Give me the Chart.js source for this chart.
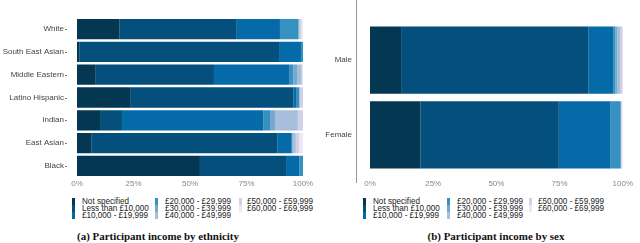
<!DOCTYPE html>
<html>
<head>
<meta charset="utf-8">
<script src="https://cdn.jsdelivr.net/npm/chart.js@4"></script>
<style>
  body { margin: 0; background: #fff; width: 640px; height: 243px; overflow: hidden; position: relative;
         font-family: "Liberation Sans", Arial, sans-serif; }
  canvas { position: absolute; top: 0; }
  #ethChart { left: 0; }
  #sexChart { left: 320px; }
  .lg { position: absolute; font-family: "Liberation Sans", Arial, sans-serif; font-size: 8px;
        line-height: 7px; color: #222; white-space: nowrap; }
  .sw { position: absolute; width: 3px; height: 7px; }
  .cap { position: absolute; top: 230px; font-family: "Liberation Serif", "Times New Roman", serif; font-weight: bold;
         font-size: 11px; line-height: 13px; transform: translateX(-50%); white-space: nowrap; color: #111; }
</style>
</head>
<body>
<canvas id="ethChart" width="320" height="195"></canvas>
<canvas id="sexChart" width="320" height="195"></canvas>
<div id="legends"></div>
<div class="cap" id="capA" style="left:158px">(a) Participant income by ethnicity</div>
<div class="cap" id="capB" style="left:496px">(b) Participant income by sex</div>
<script>
// income bands + colours (PuBu-ish, dark to light)
const incomeBands = ['Not specified', 'Less than £10,000', '£10,000 - £19,999', '£20,000 - £29,999',
                     '£30,000 - £39,999', '£40,000 - £49,999', '£50,000 - £59,999', '£60,000 - £69,999'];
const bandColors = ['#033752', '#044f7b', '#056aa8', '#3690c0', '#74a9cf', '#a6bddb', '#d0d1e6', '#ece7f2'];

const pctTicks = [0, 25, 50, 75, 100];

// (a) by ethnicity, % of participants
const ethnicities = ['White', 'South East Asian', 'Middle Eastern', 'Latino Hispanic', 'Indian', 'East Asian', 'Black'];
const ethNotSpecified = [18.7, 1.0, 8.3, 23.5, 10.2, 6.5, 54.4];
const ethUnder10k     = [52.0, 88.4, 52.3, 72.2, 9.7, 82.1, 38.1];
const eth10to19k      = [19.1, 9.7, 33.2, 1.5, 62.5, 6.4, 5.9];
const eth20to29k      = [8.1, 0.9, 1.9, 1.2, 3.0, 0.3, 1.6];
const eth30to39k      = [0.3, 0, 1.9, 0, 2.2, 0, 0];
const eth40to49k      = [0.3, 0, 1.8, 0, 10.1, 1.5, 0];
const eth50to59k      = [0.8, 0, 0.4, 1.6, 2.3, 1.5, 0];
const eth60to69k      = [0.6, 0, 0, 0, 0, 1.7, 0];

// (b) by sex
const sexes = ['Male', 'Female'];
const sexNotSpecified = [12.3, 20.0];
const sexUnder10k     = [74.2, 54.7];
const sex10to19k      = [9.7, 20.3];
const sex20to29k      = [0.9, 4.2];
const sex30to39k      = [0.8, 0];
const sex40to49k      = [1.0, 0];
const sex50to59k      = [1.1, 0.4];
const sex60to69k      = [0, 0.4];

const ethSeries = [ethNotSpecified, ethUnder10k, eth10to19k, eth20to29k, eth30to39k, eth40to49k, eth50to59k, eth60to69k];
const sexSeries = [sexNotSpecified, sexUnder10k, sex10to19k, sex20to29k, sex30to39k, sex40to49k, sex50to59k, sex60to69k];

const font8 = { family: '"Liberation Sans", Arial, sans-serif', size: 8 };

function makeDatasets(series, barPct) {
    return series.map((data, i) => ({
        label: incomeBands[i],
        data,
        backgroundColor: bandColors[i],
        borderWidth: 0,
        barPercentage: barPct,
        categoryPercentage: 1
    }));
}

function makeChart(id, labels, series, o) {
    return new Chart(document.getElementById(id), {
        type: 'bar',
        data: { labels, datasets: makeDatasets(series, o.barPct) },
        options: {
            indexAxis: 'y',
            responsive: false,
            animation: false,
            layout: { padding: { top: o.top, right: o.right, left: 0, bottom: 0 } },
            scales: {
                x: {
                    stacked: true, min: 0, max: 100,
                    grid: { display: false, drawTicks: false },
                    border: { display: false },
                    afterBuildTicks: (s) => { s.ticks = pctTicks.map(v => ({ value: v })); },
                    afterFit: (s) => { s.height = o.xHeight; },
                    ticks: { font: font8, color: '#888', padding: o.xPad, maxRotation: 0, callback: v => v + '%' }
                },
                y: {
                    stacked: true,
                    grid: { display: false, drawTicks: false },
                    border: { display: false },
                    afterFit: (s) => { s.width = o.yWidth; },
                    ticks: { font: font8, color: '#444', padding: o.yPad }
                }
            },
            plugins: { legend: { display: false }, tooltip: { enabled: false } }
        },
        plugins: [o.extra]
    });
}

// small tick dashes next to the ethnicity labels
const tickDashes = {
    id: 'tickDashes',
    afterDraw(chart) {
        const { ctx, chartArea, scales } = chart;
        ctx.save();
        ctx.strokeStyle = '#777';
        ctx.lineWidth = 1;
        scales.y.ticks.forEach((t, i) => {
            const y = Math.round(scales.y.getPixelForTick(i)) + 0.5;
            ctx.beginPath();
            ctx.moveTo(chartArea.left - 12, y);
            ctx.lineTo(chartArea.left - 10, y);
            ctx.stroke();
        });
        ctx.restore();
    }
};

// vertical axis line for the sex panel
const axisLine = {
    id: 'axisLine',
    afterDraw(chart) {
        const { ctx, chartArea } = chart;
        const x = Math.round(chartArea.left - 14) + 0.5;
        ctx.save();
        ctx.strokeStyle = '#999';
        ctx.lineWidth = 1;
        ctx.beginPath();
        ctx.moveTo(x, 0);
        ctx.lineTo(x, 183);
        ctx.stroke();
        ctx.restore();
    }
};

makeChart('ethChart', ethnicities, ethSeries,
    { barPct: 0.89, top: 3, right: 17, xHeight: 14, xPad: 2, yWidth: 77, yPad: 13, extra: tickDashes });
makeChart('sexChart', sexes, sexSeries,
    { barPct: 0.9, top: 9, right: 12, xHeight: 19, xPad: 7, yWidth: 50, yPad: 18, extra: axisLine });

// scale a text element's font so it spans the wanted width
function fitWidth(el, want) {
    const size = parseFloat(getComputedStyle(el).fontSize);
    const w = el.getBoundingClientRect().width;
    if (w > 0) el.style.fontSize = (size * want / w).toFixed(2) + 'px';
}

// html legends, 3 columns filled top to bottom
function buildLegend(cols) {
    const host = document.getElementById('legends');
    const items = [];
    incomeBands.forEach((name, i) => {
        const col = cols[Math.floor(i / 3)];
        const top = 197.5 + (i % 3) * 7;
        const sw = document.createElement('div');
        sw.className = 'sw';
        sw.style.left = col.box + 'px';
        sw.style.top = top + 'px';
        sw.style.background = bandColors[i];
        host.appendChild(sw);
        const tx = document.createElement('div');
        tx.className = 'lg';
        tx.style.left = col.text + 'px';
        tx.style.top = top + 'px';
        tx.textContent = name;
        host.appendChild(tx);
        items.push(tx);
    });
    return items;
}
const legA = buildLegend([{ box: 72, text: 82 }, { box: 155, text: 165 }, { box: 239, text: 247 }]);
const legB = buildLegend([{ box: 363, text: 373 }, { box: 447, text: 457 }, { box: 529, text: 538 }]);

// '£20,000 - £29,999' spans about 66px in the reference
const probe = legA[3];
const base = parseFloat(getComputedStyle(probe).fontSize);
const pw = probe.getBoundingClientRect().width;
const legendSize = pw > 0 ? base * 66 / pw : base;
legA.concat(legB).forEach(el => { el.style.fontSize = legendSize.toFixed(2) + 'px'; });

fitWidth(document.getElementById('capA'), 162);
fitWidth(document.getElementById('capB'), 137);
</script>
</body>
</html>
